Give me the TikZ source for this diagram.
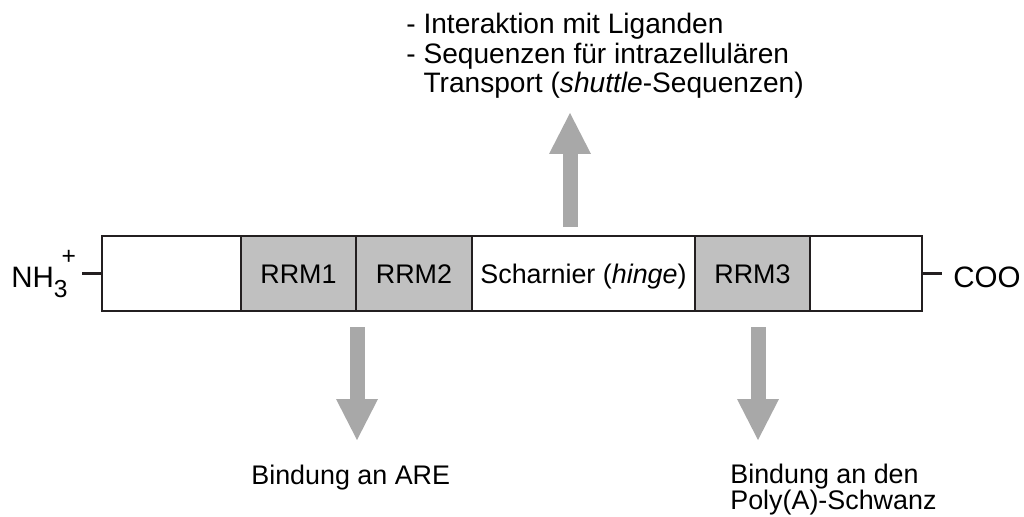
\documentclass[tikz,border=0pt]{standalone}
\usepackage{fontspec}
\setmainfont{Liberation Sans}
\usetikzlibrary{arrows.meta}
\definecolor{boxgray}{RGB}{192,192,192}
\definecolor{arrowgray}{RGB}{168,168,168}
\definecolor{linedark}{RGB}{35,31,32}
\begin{document}
\begin{tikzpicture}[x=0.02cm, y=-0.02cm,
    font=\fontsize{15.3}{14.7}\selectfont,
    dom/.style={draw=linedark, line width=1.2pt, minimum height=1.5cm, inner sep=0pt, outer sep=0pt, text height=11pt, text depth=0pt},
    rrm/.style={dom, fill=boxgray},
    bigarrow/.style={draw=arrowgray, line width=0.3cm, -{Triangle[width=0.84cm, length=0.82cm, line width=0pt]}},
    lbl/.style={inner sep=0pt},
    termfont/.style={font=\fontsize{16.8}{18}\selectfont}]
\useasboundingbox (0,0) rectangle (1024,517);
    % protein domains
    \node[dom, minimum width=2.78cm] (nterm) at (171.5,273.5) {};
    \node[rrm, minimum width=2.3cm] (rrm1) at (298.5,273.5) {RRM1};
    \node[rrm, minimum width=2.32cm] (rrm2) at (414,273.5) {RRM2};
    \node[dom, minimum width=4.46cm] (hinge) at (583.5,273.5) {Scharnier (\textit{hinge})};
    \node[rrm, minimum width=2.3cm] (rrm3) at (752.5,273.5) {RRM3};
    \node[dom, minimum width=2.24cm] (cterm) at (866,273.5) {};
    % termini
    \node[lbl, termfont, anchor=base west] (nh) at (11,287) {NH\raisebox{-5.7pt}{\fontsize{14}{14}\selectfont 3}\kern-3.4pt\raisebox{13pt}{\fontsize{14}{14}\selectfont +}};
    \node[lbl, termfont, anchor=base west] (coo) at (953,287) {COO};
    \coordinate (nend) at (82,273.5);
    \coordinate (cend) at (942,273.5);
    \draw[line width=1.2pt, linedark] (nend) -- (nterm.west);
    \draw[line width=1.2pt, linedark] (cterm.east) -- (cend);
    % functions
    \node[lbl, anchor=north west, align=left, font=\fontsize{16}{16.7}\selectfont] (topnote) at (406,13) {- Interaktion mit Liganden\\- Sequenzen für intrazellulären\\\phantom{- }Transport (\textit{shuttle}-Sequenzen)};
    \node[lbl, anchor=base west] (are) at (251,484) {Bindung an ARE};
    \node[lbl, anchor=north west, align=left] (polya) at (730,464) {Bindung an den\\Poly(A)-Schwanz};
    \coordinate (upfoot) at (570,227);
    \coordinate (uptip) at (570,113);
    \coordinate (arefoot) at (357,327);
    \coordinate (aretip) at (357,440);
    \coordinate (polyfoot) at (758,327);
    \coordinate (polytip) at (758,440);
    \draw[bigarrow] (upfoot) -- (uptip);
    \draw[bigarrow] (arefoot) -- (aretip);
    \draw[bigarrow] (polyfoot) -- (polytip);
\end{tikzpicture}
\end{document}
